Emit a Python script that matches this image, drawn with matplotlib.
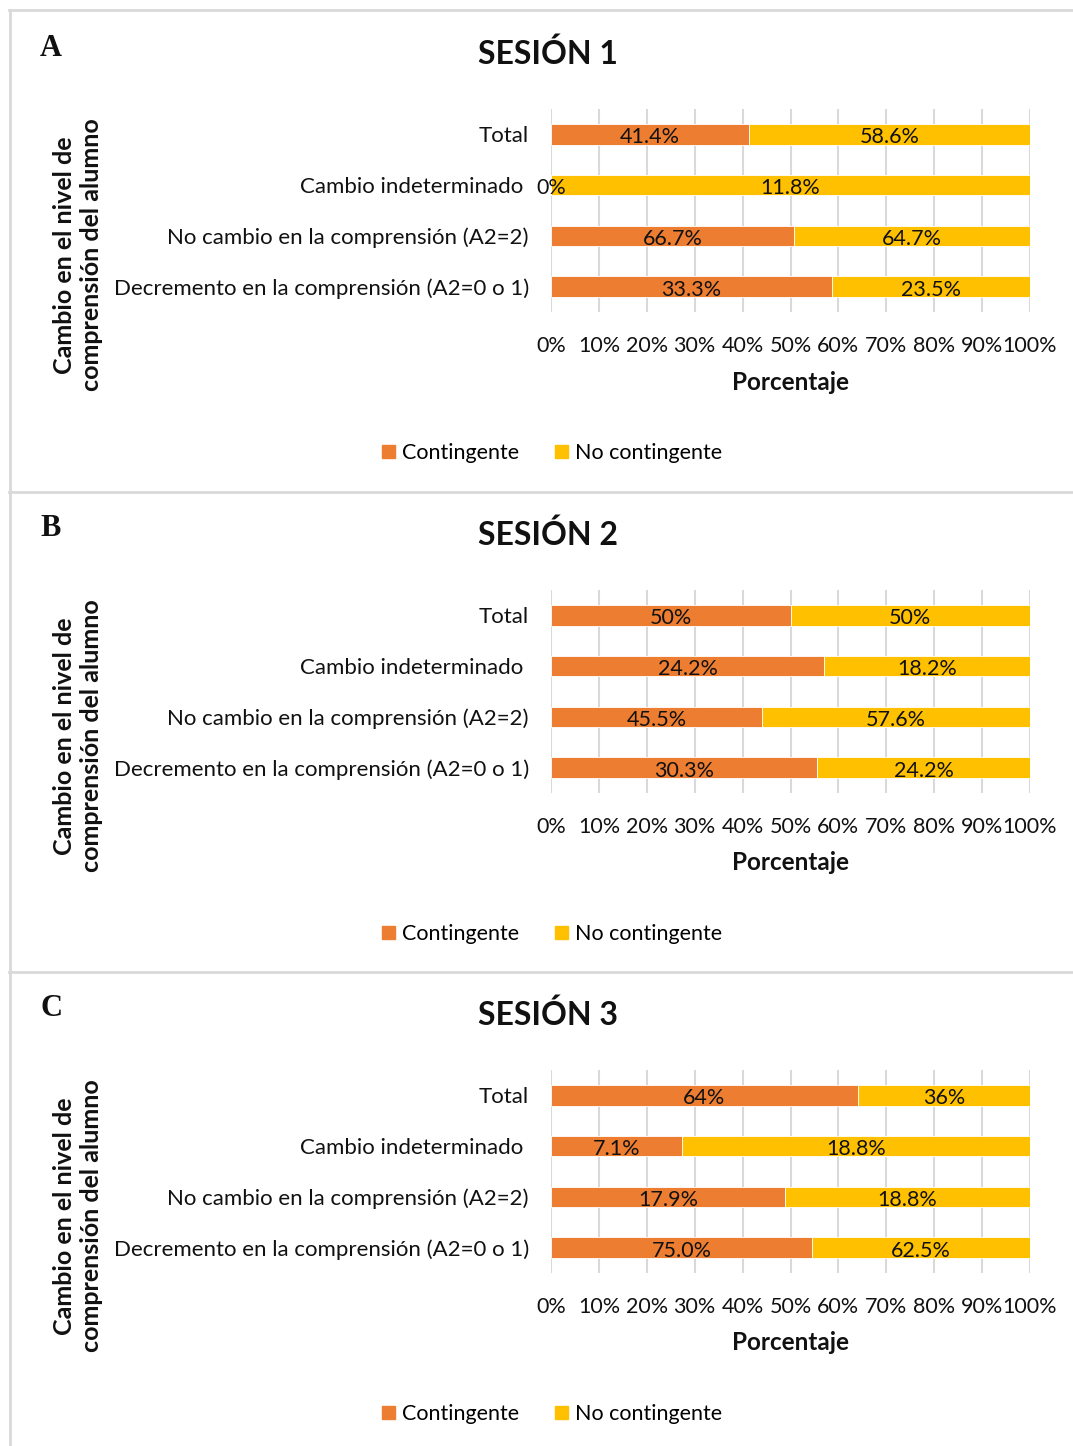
import matplotlib
matplotlib.use("Agg")
import matplotlib.pyplot as plt
from matplotlib.patches import Rectangle
from matplotlib.lines import Line2D

W, H = 1073, 1446

categories = ["Total", "Cambio indeterminado ", "No cambio en la comprensión (A2=2)",
              "Decremento en la comprensión (A2=0 o 1)"]
series_names = ["Contingente", "No contingente"]
titles = ["SESIÓN 1", "SESIÓN 2", "SESIÓN 3"]
panel_letters = ["A", "B", "C"]

# Percent values per session, category order as in `categories`
contingente = [
    [41.4, 0.0, 66.7, 33.3],
    [50.0, 24.2, 45.5, 30.3],
    [64.0, 7.1, 17.9, 75.0],
]
no_contingente = [
    [58.6, 11.8, 64.7, 23.5],
    [50.0, 18.2, 57.6, 24.2],
    [36.0, 18.8, 18.8, 62.5],
]
contingente_labels = [
    ["41.4%", "0%", "66.7%", "33.3%"],
    ["50%", "24.2%", "45.5%", "30.3%"],
    ["64%", "7.1%", "17.9%", "75.0%"],
]
no_contingente_labels = [
    ["58.6%", "11.8%", "64.7%", "23.5%"],
    ["50%", "18.2%", "57.6%", "24.2%"],
    ["36%", "18.8%", "18.8%", "62.5%"],
]
xtick_values = list(range(0, 101, 10))
xtick_labels = [f"{v}%" for v in xtick_values]

ORANGE = "#ED7D31"
YELLOW = "#FFC000"
GRID = "#D9D9D9"
FONT = "Lato"
TXT = "#111111"

fig = plt.figure(figsize=(W / 100, H / 100), dpi=100)


def fx(x):
    return x / W


def fy(y):
    return 1 - y / H


# Panel frames
frame_tops = [10, 492, 972]
for t in frame_tops:
    fig.add_artist(Line2D([fx(9), fx(W)], [fy(t), fy(t)], color="#D9D9D9", lw=2))
fig.add_artist(Line2D([fx(10), fx(10)], [fy(10), fy(H)], color="#D9D9D9", lw=2))

offsets = [0, 481, 961]
for k in range(3):
    off = offsets[k]
    top, bottom = 109 + off, 312 + off
    ax = fig.add_axes([fx(551), fy(bottom), fx(1030) - fx(551), (bottom - top) / H])
    c = contingente[k]
    n = no_contingente[k]
    share_c = [100 * a / (a + b) for a, b in zip(c, n)]
    share_n = [100 - s for s in share_c]
    ypos = list(range(len(categories)))
    bars_c = ax.barh(ypos, share_c, height=0.4, color=ORANGE, edgecolor="white", linewidth=0.6)
    bars_n = ax.barh(ypos, share_n, left=share_c, height=0.4, color=YELLOW,
                     edgecolor="white", linewidth=0.6)
    for bars, labels in ((bars_c, contingente_labels[k]), (bars_n, no_contingente_labels[k])):
        for bar, lab in zip(bars, labels):
            cx = bar.get_x() + bar.get_width() / 2
            cy = bar.get_y() + bar.get_height() / 2
            ax.annotate(lab, (cx, cy), xytext=(0, -2.2), textcoords="offset points",
                        ha="center", va="center", fontsize=15.5, family=FONT, color=TXT)
    ax.set_xlim(0, 100)
    ax.set_ylim(len(categories) - 0.5, -0.5)
    ax.set_xticks(xtick_values)
    ax.set_xticklabels(xtick_labels, family=FONT, fontsize=15.5)
    ax.set_yticks(ypos)
    ax.set_yticklabels(categories, family=FONT, fontsize=16)
    ax.tick_params(length=0, pad=16, colors=TXT)
    ax.tick_params(axis="x", pad=17)
    ax.grid(axis="x", color=GRID, lw=1.5)
    ax.set_axisbelow(True)
    for s in ax.spines.values():
        s.set_visible(False)

    # Axis titles
    fig.text(fx(791), fy(382 + off), "Porcentaje", ha="center", va="center",
             family=FONT, fontsize=17.5, fontweight="bold", color=TXT)
    fig.text(fx(78), fy(255 + off), "Cambio en el nivel de\ncomprensión del alumno",
             ha="center", va="center", rotation=90, family=FONT, fontsize=18,
             fontweight="bold", linespacing=1.2, color=TXT)
    fig.text(fx(548), fy(54 + off), titles[k], ha="center", va="center",
             family=FONT, fontsize=23, fontweight="bold", color=TXT)
    fig.text(fx(40), fy(48 + off), panel_letters[k], ha="left", va="center",
             family="Liberation Serif", fontsize=22, fontweight="bold", color=TXT)

    # Legend
    handles = [Rectangle((0, 0), 1, 1, color=ORANGE), Rectangle((0, 0), 1, 1, color=YELLOW)]
    fig.legend(handles, series_names, loc="center", bbox_to_anchor=(fx(552), fy(453 + off)),
               ncol=2, frameon=False, prop={"family": FONT, "size": 15.5},
               handlelength=0.6, handleheight=0.6, handletextpad=0.3, columnspacing=1.7)

fig.savefig("out.png", dpi=100)
